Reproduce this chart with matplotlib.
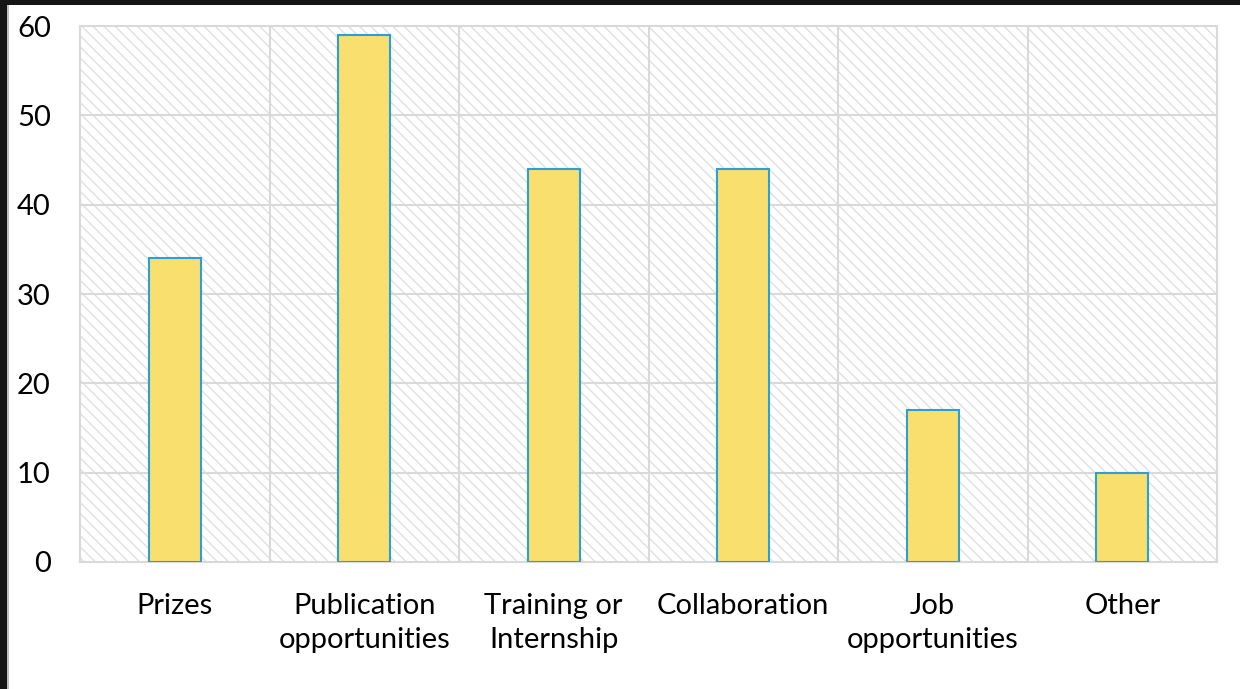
import matplotlib.pyplot as plt
import matplotlib.patches as mpatches
import numpy as np

categories = ['Prizes', 'Publication\nopportunities', 'Training or\nInternship',
              'Collaboration', 'Job\nopportunities', 'Other']
values = [34, 59, 44, 44, 17, 10]
y_ticks = [0, 10, 20, 30, 40, 50, 60]

plt.rcParams['font.family'] = ['Lato', 'DejaVu Sans']
plt.rcParams['hatch.linewidth'] = 1.0

fig = plt.figure(figsize=(12.4, 6.89), dpi=100)
fig.patch.set_facecolor('white')

# dunkler rand oben und links
fig.patches.append(mpatches.Rectangle((0, 1 - 5 / 689), 1, 5 / 689, transform=fig.transFigure,
                                      facecolor='#151515', edgecolor='none', zorder=0))
fig.patches.append(mpatches.Rectangle((0, 0), 7 / 1240, 1, transform=fig.transFigure,
                                      facecolor='#151515', edgecolor='none', zorder=0))
fig.patches.append(mpatches.Rectangle((7 / 1240, 0), 1.5 / 1240, 1 - 5 / 689, transform=fig.transFigure,
                                      facecolor='#bfbfbf', edgecolor='none', zorder=0))

ax = fig.add_axes([80 / 1240, 1 - 562 / 689, (1217 - 80) / 1240, (562 - 26) / 689])
ax.set_facecolor('white')

# schraffierter hintergrund
ax.add_patch(mpatches.Rectangle((0, 0), 1, 1, transform=ax.transAxes, facecolor='white',
                                edgecolor='#e0e0e0', hatch='\\\\\\', linewidth=0, zorder=0))

x = np.arange(len(categories))
ax.bar(x, values, width=0.275, color='#F9DF6E', edgecolor='#2A9FD8', linewidth=1.5, zorder=3)

ax.set_xlim(-0.5, len(categories) - 0.5)
ax.set_ylim(0, 60)
ax.set_yticks(y_ticks)
ax.set_xticks(x)
ax.set_xticklabels(categories, fontsize=21, linespacing=1.4)
ax.tick_params(axis='y', length=0, pad=21, labelsize=21)
ax.tick_params(axis='x', length=0, pad=22)

for yv in y_ticks[1:-1]:
    ax.axhline(yv, color='#d9d9d9', linewidth=1.5, zorder=1)
for xv in np.arange(0.5, len(categories) - 1, 1):
    ax.axvline(xv, color='#d9d9d9', linewidth=1.5, zorder=1)

for s in ax.spines.values():
    s.set_color('#d9d9d9')
    s.set_linewidth(1.5)

plt.savefig('out.png', dpi=100)
